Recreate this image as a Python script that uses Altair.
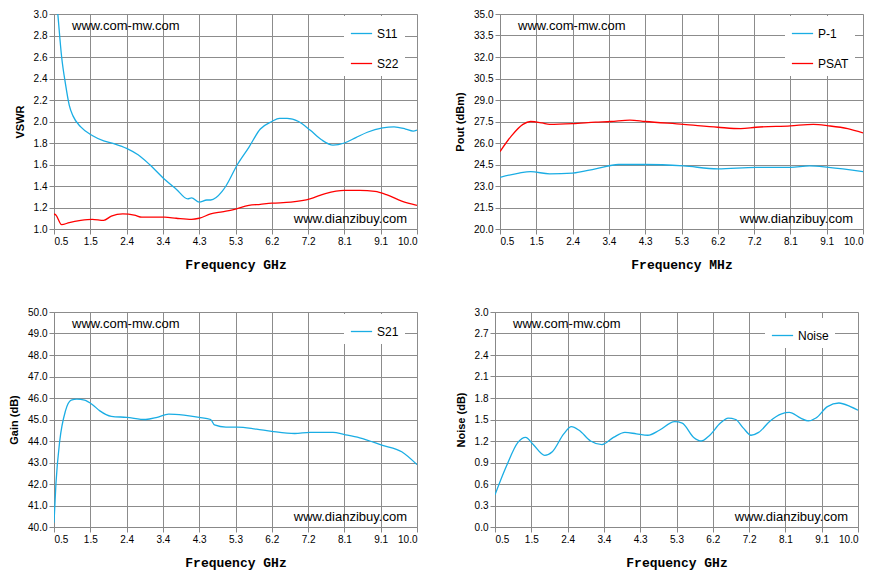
import altair as alt
import pandas as pd

# VSWR
s11_f = [0.5, 0.6, 0.7, 0.8, 0.9, 1.0, 1.2, 1.5, 1.8, 2.1, 2.4, 2.7, 3.0, 3.4, 3.7, 4.0, 4.1, 4.3, 4.5, 4.6,
         4.9, 5.0, 5.3, 5.6, 5.9, 6.2, 6.4, 6.6, 6.9, 7.2, 7.5, 7.8, 8.1, 8.4, 8.7, 9.1, 9.4, 9.7, 9.9, 10.0]
s11_v = [3.4, 3.0, 2.6, 2.35, 2.15, 2.05, 1.95, 1.87, 1.82, 1.79, 1.75, 1.69, 1.6, 1.46, 1.37, 1.28, 1.29, 1.25, 1.27, 1.27,
         1.35, 1.4, 1.6, 1.76, 1.93, 2.0, 2.03, 2.03, 2.0, 1.92, 1.83, 1.78, 1.8, 1.85, 1.9, 1.94, 1.95, 1.93, 1.91, 1.92]
s22_f = [0.5, 0.55, 0.7, 0.9, 1.2, 1.5, 1.8, 2.0, 2.3, 2.6, 2.8, 3.1, 3.4, 3.7, 4.1, 4.3, 4.6, 4.9, 5.2, 5.6,
         5.9, 6.2, 6.7, 7.2, 7.6, 8.1, 8.5, 8.9, 9.2, 9.6, 10.0]
s22_v = [1.14, 1.13, 1.04, 1.06, 1.08, 1.09, 1.08, 1.12, 1.14, 1.13, 1.11, 1.11, 1.11, 1.1, 1.09, 1.1, 1.14, 1.16, 1.18, 1.22,
         1.23, 1.24, 1.25, 1.28, 1.33, 1.36, 1.36, 1.35, 1.32, 1.26, 1.22]

# Pout
psat_f = [0.5, 0.8, 1.1, 1.3, 1.6, 1.8, 2.4, 3.0, 3.4, 3.9, 4.3, 5.3, 6.2, 6.8, 7.2, 8.1, 8.7, 9.1, 9.6, 10.0]
psat_v = [25.4, 26.5, 27.3, 27.5, 27.4, 27.3, 27.35, 27.45, 27.5, 27.6, 27.5, 27.3, 27.1, 27.0, 27.1, 27.2, 27.3, 27.2, 27.0, 26.7]
p1_f = [0.5, 1.0, 1.3, 1.8, 2.4, 3.0, 3.6, 4.3, 5.3, 6.2, 7.2, 8.1, 8.6, 9.1, 10.0]
p1_v = [23.6, 23.9, 24.0, 23.85, 23.9, 24.2, 24.5, 24.5, 24.4, 24.2, 24.3, 24.3, 24.4, 24.3, 24.0]

# Gain
s21_f = [0.5, 0.55, 0.65, 0.8, 0.95, 1.1, 1.3, 1.5, 1.7, 2.0, 2.4, 2.9, 3.2, 3.5, 3.9, 4.3, 4.6, 4.7, 5.0, 5.3,
         5.8, 6.2, 6.8, 7.2, 7.8, 8.1, 8.5, 9.1, 9.6, 10.0]
s21_v = [40.2, 42.0, 44.0, 45.4, 45.9, 45.95, 45.9, 45.7, 45.4, 45.15, 45.1, 45.0, 45.1, 45.25, 45.2, 45.1, 45.0, 44.75, 44.65, 44.65,
         44.55, 44.45, 44.35, 44.4, 44.4, 44.3, 44.15, 43.8, 43.5, 42.9]

# Noise figure
nf_f = [0.5, 0.8, 1.1, 1.3, 1.5, 1.8, 2.0, 2.3, 2.5, 2.7, 3.0, 3.3, 3.6, 3.9, 4.2, 4.5, 4.8, 5.2, 5.4, 5.7,
        5.9, 6.1, 6.4, 6.6, 6.8, 7.0, 7.2, 7.4, 7.7, 8.0, 8.2, 8.5, 8.7, 8.9, 9.2, 9.5, 9.8, 10.0]
nf_v = [0.45, 0.85, 1.18, 1.25, 1.15, 1.0, 1.05, 1.3, 1.4, 1.35, 1.2, 1.15, 1.25, 1.32, 1.3, 1.28, 1.35, 1.47, 1.45, 1.25,
        1.2, 1.27, 1.45, 1.52, 1.5, 1.38, 1.28, 1.32, 1.48, 1.58, 1.6, 1.52, 1.48, 1.52, 1.68, 1.73, 1.68, 1.63]

x_ticks = [round(0.5 + 0.95 * k, 2) for k in range(11)]
BLUE = "#1AADE4"
RED = "#FF0000"
W, H = 363, 215
MONO = "Liberation Mono"


def long(pairs):
    rows = []
    for name, fs, vs in pairs:
        rows += [{"f": f, "v": v, "series": name} for f, v in zip(fs, vs)]
    return pd.DataFrame(rows)


def panel(pairs, colors, y_lo, y_hi, y_step, y_title, x_title, leg_x, leg_y):
    df = long(pairs)
    names = [p[0] for p in pairs]
    n = int(round((y_hi - y_lo) / y_step))
    y_ticks = [round(y_lo + y_step * k, 2) for k in range(n + 1)]
    lines = (
        alt.Chart(df)
        .mark_line(strokeWidth=1.3, clip=True, interpolate="monotone")
        .encode(
            x=alt.X("f:Q", title=x_title, scale=alt.Scale(domain=[0.5, 10.0], nice=False),
                    axis=alt.Axis(values=x_ticks, labelExpr="format(datum.value + 0.001, '.1f')",
                                  grid=True, gridColor="#8c8c8c", gridOpacity=1,
                                  titleFont=MONO, titleFontSize=13, titleFontWeight="bold",
                                  titlePadding=12)),
            y=alt.Y("v:Q", title=y_title, scale=alt.Scale(domain=[y_lo, y_hi], nice=False, zero=False),
                    axis=alt.Axis(values=y_ticks, format=".1f", grid=True, gridColor="#8c8c8c",
                                  gridOpacity=1, titleFontSize=11, titleFontWeight="bold",
                                  titlePadding=8)),
            color=alt.Color("series:N", scale=alt.Scale(domain=names, range=colors), sort=names,
                            legend=alt.Legend(title=None, orient="none", legendX=leg_x, legendY=leg_y,
                                              symbolType="stroke", symbolSize=450, symbolStrokeWidth=1.3,
                                              fillColor="white", padding=6, rowPadding=12,
                                              labelFontSize=12, labelFont="Liberation Sans")),
        )
    )
    wm1 = alt.Chart(pd.DataFrame({"t": ["www.com-mw.com"]})).mark_text(
        align="left", baseline="middle", fontSize=13, font="Liberation Sans", color="black"
    ).encode(x=alt.value(18), y=alt.value(12), text="t:N")
    wm2 = alt.Chart(pd.DataFrame({"t": ["www.dianzibuy.com"]})).mark_text(
        align="right", baseline="middle", fontSize=13, font="Liberation Sans", color="black"
    ).encode(x=alt.value(W - 10), y=alt.value(H - 10), text="t:N")
    return alt.layer(lines, wm1, wm2).properties(width=W, height=H).resolve_scale(color="independent")


p1 = panel([("S11", s11_f, s11_v), ("S22", s22_f, s22_v)], [BLUE, RED],
           1.0, 3.0, 0.2, "VSWR", "Frequency GHz", 290, 2)
p2 = panel([("P-1", p1_f, p1_v), ("PSAT", psat_f, psat_v)], [BLUE, RED],
           20.0, 35.0, 1.5, "Pout (dBm)", "Frequency MHz", 285, 2)
p3 = panel([("S21", s21_f, s21_v)], [BLUE], 40.0, 50.0, 1.0, "Gain (dB)", "Frequency GHz", 290, 2)
p4 = panel([("Noise", nf_f, nf_v)], [BLUE], 0.0, 3.0, 0.3, "Noise (dB)", "Frequency GHz", 270, 6)

chart = (
    alt.vconcat(alt.hconcat(p1, p2, spacing=36), alt.hconcat(p3, p4, spacing=36), spacing=34)
    .resolve_scale(color="independent")
    .configure_axis(domainColor="#888888", tickColor="#888888",
                    labelFont="Liberation Sans", labelFontSize=11, labelColor="black",
                    titleColor="black", tickSize=4)
    .configure_view(stroke="#888888")
    .configure(background="white", padding={"left": 0, "top": 0, "right": 5, "bottom": 5})
)

chart.save("out.html", embed_options={"renderer": "svg", "actions": False})
